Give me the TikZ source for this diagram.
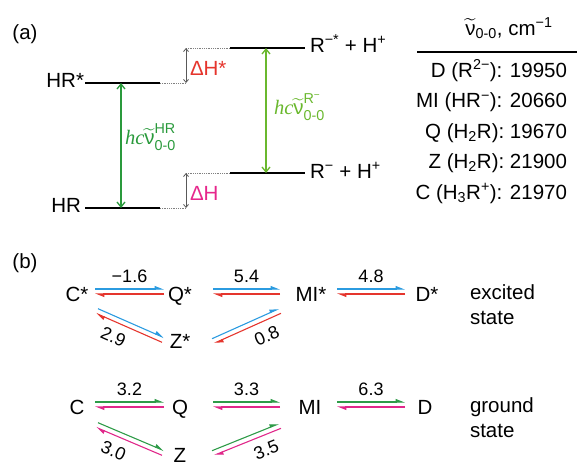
\documentclass[tikz,border=0pt]{standalone}
\usepackage{amsmath}
\usepackage{fontspec}
\setmainfont{Liberation Sans}
\newfontfamily\serifmath{Liberation Serif}
\usetikzlibrary{calc,arrows.meta}

\definecolor{exblue}{HTML}{2B9BE0}
\definecolor{exred}{HTML}{E5352D}
\definecolor{gsgreen}{HTML}{2E9B48}
\definecolor{gsmagenta}{HTML}{E0288A}
\definecolor{hrgreen}{HTML}{2A9A3C}
\definecolor{rgreen}{HTML}{6AB82E}
\definecolor{dhred}{HTML}{E5352D}
\definecolor{dhmagenta}{HTML}{E6278C}

\tikzset{
  harp/.style={line width=1.1pt, -{Triangle[harpoon,length=8pt,width=6pt]}},
  level/.style={line width=1.8pt},
  joint/.style={densely dotted, gray, line width=0.8pt},
  gap/.style={black!65, line width=0.8pt, {Straight Barb[length=3pt,width=5pt]}-{Straight Barb[length=3pt,width=5pt]}},
  transition/.style={line width=1.3pt, {Straight Barb[length=5pt,width=8pt]}-{Straight Barb[length=5pt,width=8pt]}},
  species/.style={inner sep=0pt, text height=14.7pt, text depth=0pt},
  rate/.style={font=\fontsize{18}{20}\selectfont, text=black, inner sep=6pt},
  slrate/.style={font=\fontsize{18}{20}\selectfont, text=black, inner sep=8pt, below, sloped},
}

\begin{document}
\begin{tikzpicture}[x=1pt, y=-1pt, inner sep=0pt, outer sep=0pt, every node/.style={font=\fontsize{20.5}{25}\selectfont}]
    \useasboundingbox (0,0) rectangle (577,463);

    % (a) energy levels
    \node (lab_a) at (25,34) {(a)};
    \coordinate (hrs_l) at (85,83);
    \coordinate (hrs_r) at (160,83);
    \coordinate (hr_l) at (85,208);
    \coordinate (hr_r) at (160,208);
    \coordinate (rs_l) at (230,48);
    \coordinate (rs_r) at (305,48);
    \coordinate (r_l) at (230,173);
    \coordinate (r_r) at (305,173);
    \coordinate (dhs_lo) at (186,83);
    \coordinate (dhs_hi) at (186,48);
    \coordinate (dh_lo) at (186,208);
    \coordinate (dh_hi) at (186,173);

    \draw[level] (hrs_l) -- (hrs_r);
    \draw[level] (hr_l) -- (hr_r);
    \draw[level] (rs_l) -- (rs_r);
    \draw[level] (r_l) -- (r_r);

    \draw[joint] (hrs_r) -- (dhs_lo);
    \draw[joint] (dhs_hi) -- (rs_l);
    \draw[joint] (hr_r) -- (dh_lo);
    \draw[joint] (dh_hi) -- (r_l);
    \draw[gap] (dhs_lo) -- (dhs_hi);
    \draw[gap] (dh_lo) -- (dh_hi);

    \node[anchor=base east] (hr_star) at ($(hrs_l)+(-1,4)$) {HR*};
    \node[anchor=base east] (hr) at ($(hr_l)+(-4,4)$) {HR};
    \node[anchor=base west] (r_star) at ($(rs_r)+(5,4)$) {R\textsuperscript{−*} + H\textsuperscript{+}};
    \node[anchor=base west] (r_minus) at ($(r_r)+(5,5)$) {R\textsuperscript{−} + H\textsuperscript{+}};
    \node[anchor=base west, text=dhred] (dh_star) at (190,75) {ΔH*};
    \node[anchor=base west, text=dhmagenta] (dh) at (190,200) {ΔH};

    % 0-0 transitions
    \draw[transition, hrgreen] ($(hrs_l)!0.48!(hrs_r)$) -- ($(hr_l)!0.48!(hr_r)$);
    \draw[transition, rgreen] ($(rs_l)!0.48!(rs_r)$) -- ($(r_l)!0.48!(r_r)$);
    \node[anchor=west, text=hrgreen] (nu_hr) at (125,137)
    {$\text{\serifmath\itshape hc}\widetilde{\mbox{ν}}^{\text{HR}}_{\text{0-0}}$};
    \node[anchor=west, text=rgreen] (nu_r) at (274,107)
    {$\text{\serifmath\itshape hc}\widetilde{\mbox{ν}}^{\text{R\textsuperscript{−}}}_{\text{0-0}}$};

    % table of 0-0 energies
    \node[anchor=base] (nu_head) at (509,35) {$\widetilde{\mbox{ν}}_{\text{0-0}}$, cm\textsuperscript{−1}};
    \coordinate (rule_l) at (417,52);
    \coordinate (rule_r) at (577,52);
    \draw[line width=1.2pt] (rule_l) -- (rule_r);
    \node[anchor=north east] (nu_rows) at (567,56)
    {
    \renewcommand{\arraystretch}{1.22}
    \begin{tabular}{@{}r@{}}
    D (R\textsuperscript{2−}): 19950 \\
    MI (HR\textsuperscript{−}): 20660 \\
    Q (H\textsubscript{2}R): 19670 \\
    Z (H\textsubscript{2}R): 21900 \\
    C (H\textsubscript{3}R\textsuperscript{+}): 21970 \\
    \end{tabular}
    };

    % (b) excited state
    \node (lab_b) at (25,263) {(b)};
    \node[species] (c_ex) at (77,294) {C*};
    \node[species] (q_ex) at (180,294) {Q*};
    \node[species] (mi_ex) at (311,294) {MI*};
    \node[species] (d_ex) at (427,294) {D*};
    \node[species] (z_ex) at (180,341) {Z*};
    \node[anchor=west, align=left] (excited) at (470,305) {excited\\state};

    \draw[harp, exblue] ($(c_ex)+(18,-5)$) -- node[rate, above] {−1.6} ($(q_ex)+(-16,-5)$);
    \draw[harp, exred] ($(q_ex)+(-16,0)$) -- ($(c_ex)+(18,0)$);
    \draw[harp, exblue] ($(q_ex)+(33,-5)$) -- node[rate, above] {5.4} ($(mi_ex)+(-31,-5)$);
    \draw[harp, exred] ($(mi_ex)+(-31,0)$) -- ($(q_ex)+(33,0)$);
    \draw[harp, exblue] ($(mi_ex)+(26,-5)$) -- node[rate, above] {4.8} ($(d_ex)+(-22,-5)$);
    \draw[harp, exred] ($(d_ex)+(-22,0)$) -- ($(mi_ex)+(26,0)$);
    \draw[harp, exblue] ($(c_ex)+(21,14.7)$) -- ($(z_ex)+(-16,-3.3)$);
    \draw[harp, exred] ($(z_ex)+(-18,1.3)$) -- node[slrate, pos=0.65] {2.9} ($(c_ex)+(19,19.3)$);
    \draw[harp, exblue] ($(z_ex)+(32,-2.3)$) -- ($(mi_ex)+(-32,14.7)$);
    \draw[harp, exred] ($(mi_ex)+(-30,19.3)$) -- node[slrate, pos=0.3] {0.8} ($(z_ex)+(34,2.3)$);

    % (b) ground state
    \node[species] (c_gs) at (77,407) {C};
    \node[species] (q_gs) at (180,407) {Q};
    \node[species] (mi_gs) at (310,407) {MI};
    \node[species] (d_gs) at (425,407) {D};
    \node[species] (z_gs) at (180,455) {Z};
    \node[anchor=west, align=left] (ground) at (470,418) {ground\\state};

    \draw[harp, gsgreen] ($(c_gs)+(18,-5)$) -- node[rate, above] {3.2} ($(q_gs)+(-16,-5)$);
    \draw[harp, gsmagenta] ($(q_gs)+(-16,0)$) -- ($(c_gs)+(18,0)$);
    \draw[harp, gsgreen] ($(q_gs)+(33,-5)$) -- node[rate, above] {3.3} ($(mi_gs)+(-30,-5)$);
    \draw[harp, gsmagenta] ($(mi_gs)+(-30,0)$) -- ($(q_gs)+(33,0)$);
    \draw[harp, gsgreen] ($(mi_gs)+(27,-5)$) -- node[rate, above] {6.3} ($(d_gs)+(-20,-5)$);
    \draw[harp, gsmagenta] ($(d_gs)+(-20,0)$) -- ($(mi_gs)+(27,0)$);
    \draw[harp, gsgreen] ($(c_gs)+(21,15.7)$) -- ($(z_gs)+(-16,-4.3)$);
    \draw[harp, gsmagenta] ($(z_gs)+(-18,0.3)$) -- node[slrate, pos=0.65] {3.0} ($(c_gs)+(19,20.3)$);
    \draw[harp, gsgreen] ($(z_gs)+(32,-4.3)$) -- ($(mi_gs)+(-31,16.7)$);
    \draw[harp, gsmagenta] ($(mi_gs)+(-29,21.3)$) -- node[slrate, pos=0.3] {3.5} ($(z_gs)+(34,0.3)$);

\end{tikzpicture}
\end{document}
